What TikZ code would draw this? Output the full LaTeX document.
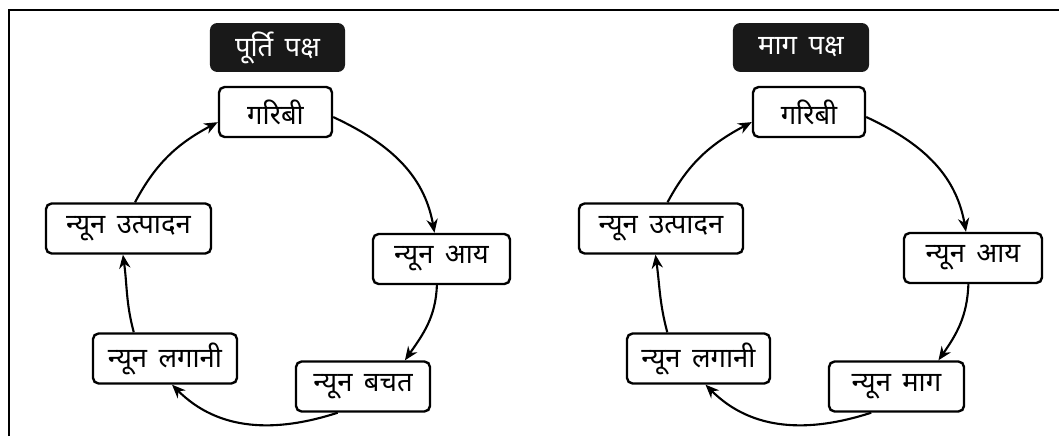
\documentclass[tikz,border=0pt]{standalone}
\usepackage{fontspec}
\newfontfamily\devfont[Script=Devanagari, WordSpace=1.6]{Noto Sans}
\usetikzlibrary{arrows.meta}
\tikzset{
  cyclebox/.style={rectangle, draw, line width=1.7pt, rounded corners=4pt, minimum height=1.25cm, inner sep=2pt, align=center, font=\devfont\fontsize{19.5}{22}\selectfont},
  headbox/.style={rectangle, fill=black!90, text=white, rounded corners=5pt, minimum height=1.22cm, inner sep=2pt, align=center, font=\devfont\fontsize{19.5}{22}\selectfont},
  arr/.style={-{Stealth[length=3.4mm, width=2.8mm]}, line width=1.5pt},
}

\begin{document}
\begin{tikzpicture}[x=0.025cm, y=0.025cm]
  \useasboundingbox (0,0) rectangle (1059,436);
  % Frame
  \draw[line width=1.6pt] (9,0) -- (9,426) -- (1059,426);

  % Supply side
  \node[headbox, minimum width=3.375cm] (supplyhead) at (277.5,388.5) {पूर्ति पक्ष};
  \node[cyclebox, minimum width=2.825cm] (poverty1) at (275.5,324) {गरिबी};
  \node[cyclebox, minimum width=3.425cm] (income1) at (441.5,177) {न्यून आय};
  \node[cyclebox, minimum width=3.35cm] (saving1) at (363,49.5) {न्यून बचत};
  \node[cyclebox, minimum width=3.6cm] (invest1) at (165,77.5) {न्यून लगानी};
  \node[cyclebox, minimum width=4.125cm] (output1) at (128.5,207.5) {न्यून उत्पादन};

  \draw[arr] (poverty1.-5) to[out=-25, in=100] (income1.105);
  \draw[arr] (income1.-100) to[out=-92, in=55] (saving1.32);
  \draw[arr] (saving1.-134) to[out=198, in=-45] (invest1.-75);
  \draw[arr] (invest1.140) to[out=105, in=-82] (output1.-102);
  \draw[arr] (output1.76) to[out=62, in=208] (poverty1.190);

  % Demand side
  \node[headbox, minimum width=3.4cm] (demandhead) at (801,388.5) {माग पक्ष};
  \node[cyclebox, minimum width=2.8cm] (poverty2) at (809,324) {गरिबी};
  \node[cyclebox, minimum width=3.45cm] (income2) at (973,178) {न्यून आय};
  \node[cyclebox, minimum width=3.375cm] (demand2) at (896.5,49.5) {न्यून माग};
  \node[cyclebox, minimum width=3.575cm] (invest2) at (698.5,77.5) {न्यून लगानी};
  \node[cyclebox, minimum width=4.1cm] (output2) at (661,207.5) {न्यून उत्पादन};

  \draw[arr] (poverty2.-5) to[out=-25, in=100] (income2.105);
  \draw[arr] (income2.-100) to[out=-92, in=55] (demand2.32);
  \draw[arr] (demand2.-134) to[out=198, in=-45] (invest2.-75);
  \draw[arr] (invest2.140) to[out=105, in=-82] (output2.-102);
  \draw[arr] (output2.76) to[out=62, in=208] (poverty2.190);
\end{tikzpicture}
\end{document}
